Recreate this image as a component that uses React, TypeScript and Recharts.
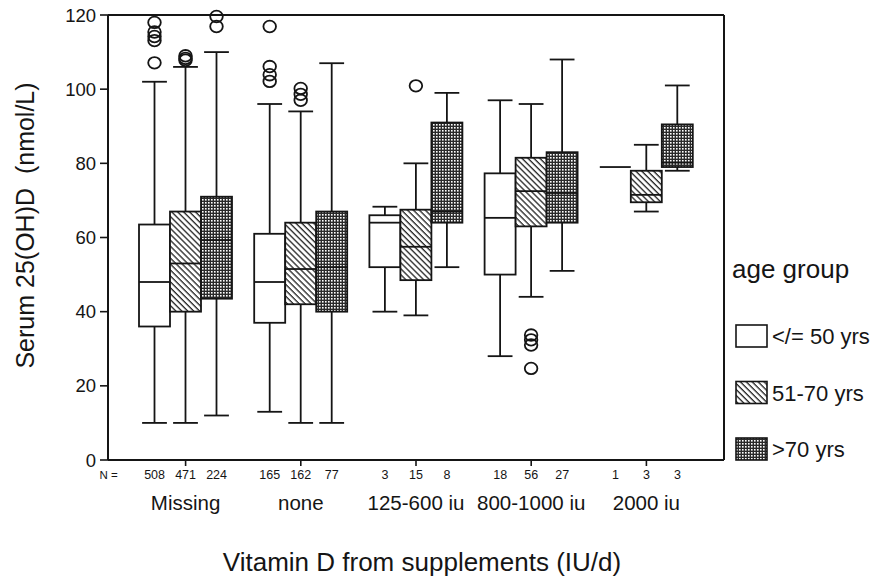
import React from "react";
import { BarChart, Bar, XAxis, YAxis } from "recharts";

const FONT = '"Liberation Sans", Arial, Helvetica, sans-serif';
const INK = "#151515";

// categories and age groups
const categories = ["Missing", "none", "125-600 iu", "800-1000 iu", "2000 iu"];
const ageGroups = ["</= 50 yrs", "51-70 yrs", ">70 yrs"];
const yTicks = [0, 20, 40, 60, 80, 100, 120];

// group sizes (N =)
const nYoung = [508, 165, 3, 18, 1];
const nMid = [471, 162, 15, 56, 3];
const nOld = [224, 77, 8, 27, 3];

// [lower whisker, Q1, median, Q3, upper whisker]
const statsYoung = [
  [10, 36, 48, 63.5, 102],
  [13, 37, 48, 61, 96],
  [40, 52, 64, 66, 68.3],
  [28, 50, 65.3, 77.3, 97],
  [79, 79, 79, 79, 79],
];
const statsMid = [
  [10, 40, 53, 67, 106],
  [10, 42, 51.5, 64, 94],
  [39, 48.5, 57.5, 67.5, 80],
  [44, 63, 72.5, 81.5, 96],
  [67, 69.5, 71.5, 78, 85],
];
const statsOld = [
  [12, 43.5, 59.3, 71, 110],
  [10, 40, 52, 67, 107],
  [52, 64, 67, 91, 99],
  [51, 64, 72, 83, 108],
  [78, 79, 80.2, 90.5, 101],
];

// outliers
const outYoung = [[118, 115.4, 114.2, 113.1, 107.1], [116.9, 106.1, 103.9, 102.1], [], [], []];
const outMid = [[109, 108.3, 107.8], [100.2, 98.6, 97], [100.9], [33.7, 32.4, 31, 24.7], []];
const outOld = [[119.6, 116.9], [], [], [], []];

const rows = categories.map((cat, i) => ({
  cat,
  young: statsYoung[i],
  mid: statsMid[i],
  old: statsOld[i],
  youngOut: outYoung[i],
  midOut: outMid[i],
  oldOut: outOld[i],
}));

const fills: Record<string, string> = {
  young: "#ffffff",
  mid: "url(#hatchMid)",
  old: "url(#hatchOld)",
};

function BoxShape(props: any) {
  const { x, y, width, height, payload, group } = props;
  const s = payload[group];
  const outs: number[] = payload[group + "Out"] || [];
  const [lo, q1, med, q3, hi] = s;
  const top = Math.min(y, y + height);
  const h = Math.abs(height);
  const sw = 1.8;
  if (hi === lo || h === 0) {
    return <line x1={x} x2={x + width} y1={top} y2={top} stroke={INK} strokeWidth={sw} />;
  }
  const k = h / (hi - lo);
  const py = (v: number) => top + (hi - v) * k;
  const cx = x + width / 2;
  const cap = width * 0.4;
  return (
    <g>
      <line x1={cx} x2={cx} y1={py(hi)} y2={py(q3)} stroke={INK} strokeWidth={sw} />
      <line x1={cx} x2={cx} y1={py(q1)} y2={py(lo)} stroke={INK} strokeWidth={sw} />
      <line x1={cx - cap} x2={cx + cap} y1={py(hi)} y2={py(hi)} stroke={INK} strokeWidth={sw} />
      <line x1={cx - cap} x2={cx + cap} y1={py(lo)} y2={py(lo)} stroke={INK} strokeWidth={sw} />
      <rect x={x} y={py(q3)} width={width} height={py(q1) - py(q3)} fill={fills[group]} stroke={INK} strokeWidth={sw} />
      <line x1={x} x2={x + width} y1={py(med)} y2={py(med)} stroke={INK} strokeWidth={sw} />
      {outs.map((o, i) => (
        <ellipse key={i} cx={cx} cy={py(o)} rx={6.3} ry={5.8} fill="none" stroke={INK} strokeWidth={1.8} />
      ))}
    </g>
  );
}

function CatTick(props: any) {
  const { x, y, payload, index } = props;
  const ns = [nYoung[index], nMid[index], nOld[index]];
  return (
    <g fontFamily={FONT} fill={INK}>
      {index === 0 && (
        <text x={x - 77} y={y + 11} textAnchor="middle" fontSize={11.5}>N =</text>
      )}
      {ns.map((n, j) => (
        <text key={j} x={x + (j - 1) * 31} y={y + 11} textAnchor="middle" fontSize={12.5}>
          {n}
        </text>
      ))}
      <text x={x} y={y + 42} textAnchor="middle" fontSize={20.5}>
        {payload.value}
      </text>
    </g>
  );
}

function XTitle(props: any) {
  const { viewBox } = props;
  return (
    <text x={viewBox.x + viewBox.width / 2 + 6} y={viewBox.y + 111} textAnchor="middle" fontFamily={FONT} fontSize={26} fill={INK}>
      Vitamin D from supplements (IU/d)
    </text>
  );
}

function YTitle(props: any) {
  const { viewBox } = props;
  const cy = viewBox.y + viewBox.height / 2 - 12;
  return (
    <text x={25} y={cy} transform={`rotate(-90, 25, ${cy})`} textAnchor="middle" dominantBaseline="central" fontFamily={FONT} fontSize={25} fill={INK}>
      {"Serum 25(OH)D\u00a0 (nmol/L)"}
    </text>
  );
}

function AgeLegend() {
  const swatches = ["#ffffff", "url(#hatchMid)", "url(#hatchOld)"];
  return (
    <svg width={164} height={220} style={{ position: "absolute", left: 720, top: 250 }}>
      <text x={12} y={28} fontFamily={FONT} fontSize={26} fill={INK}>age group</text>
      {ageGroups.map((g, i) => {
        const ry = 75 + i * 56.5;
        return (
          <g key={g}>
            <rect x={16} y={ry} width={31} height={22} fill={swatches[i]} stroke={INK} strokeWidth={1.6} />
            <text x={52} y={ry + 19} fontFamily={FONT} fontSize={22} fill={INK}>{g}</text>
          </g>
        );
      })}
    </svg>
  );
}

export default function App() {
  return (
    <div style={{ position: "absolute", left: 0, top: 0, width: 884, height: 578, background: "#fff" }}>
      <svg width={0} height={0} style={{ position: "absolute" }}>
        <defs>
          <pattern id="hatchMid" patternUnits="userSpaceOnUse" width={4.2} height={4.2} patternTransform="rotate(-45)">
            <rect width={4.2} height={4.2} fill="#fff" />
            <line x1={1} x2={1} y1={0} y2={4.2} stroke="#222" strokeWidth={1.3} />
          </pattern>
          <pattern id="hatchOld" patternUnits="userSpaceOnUse" width={3} height={3}>
            <rect width={3} height={3} fill="#2a2a2a" />
            <rect x={1} y={1} width={1.6} height={1.6} fill="#fff" />
          </pattern>
        </defs>
      </svg>
      <BarChart
        width={884}
        height={578}
        data={rows}
        margin={{ top: 14, right: 159, bottom: 58, left: 48 }}
        barGap={0}
        barSize={31}
      >
        <XAxis
          dataKey="cat"
          height={60}
          padding={{ left: 20, right: 20 }}
          axisLine={{ stroke: INK, strokeWidth: 2 }}
          tickLine={{ stroke: INK, strokeWidth: 1.6 }}
          tickSize={6}
          tick={<CatTick />}
          interval={0}
          label={<XTitle />}
        />
        <XAxis
          xAxisId="t"
          dataKey="cat"
          orientation="top"
          height={1}
          tick={false}
          tickLine={false}
          axisLine={{ stroke: INK, strokeWidth: 2 }}
        />
        <YAxis
          domain={[0, 120]}
          ticks={yTicks}
          width={60}
          axisLine={{ stroke: INK, strokeWidth: 2 }}
          tickLine={{ stroke: INK, strokeWidth: 1.6 }}
          tickSize={8}
          tickMargin={4}
          tick={{ fill: INK, fontSize: 18.5, fontFamily: FONT }}
          label={<YTitle />}
        />
        <YAxis
          yAxisId="r"
          orientation="right"
          domain={[0, 120]}
          width={1}
          tick={false}
          tickLine={false}
          axisLine={{ stroke: INK, strokeWidth: 2 }}
        />
        <Bar dataKey={(d: any) => [d.young[0], d.young[4]]} isAnimationActive={false} shape={(p: any) => <BoxShape {...p} group="young" />} />
        <Bar dataKey={(d: any) => [d.mid[0], d.mid[4]]} isAnimationActive={false} shape={(p: any) => <BoxShape {...p} group="mid" />} />
        <Bar dataKey={(d: any) => [d.old[0], d.old[4]]} isAnimationActive={false} shape={(p: any) => <BoxShape {...p} group="old" />} />
      </BarChart>
      <AgeLegend />
    </div>
  );
}
